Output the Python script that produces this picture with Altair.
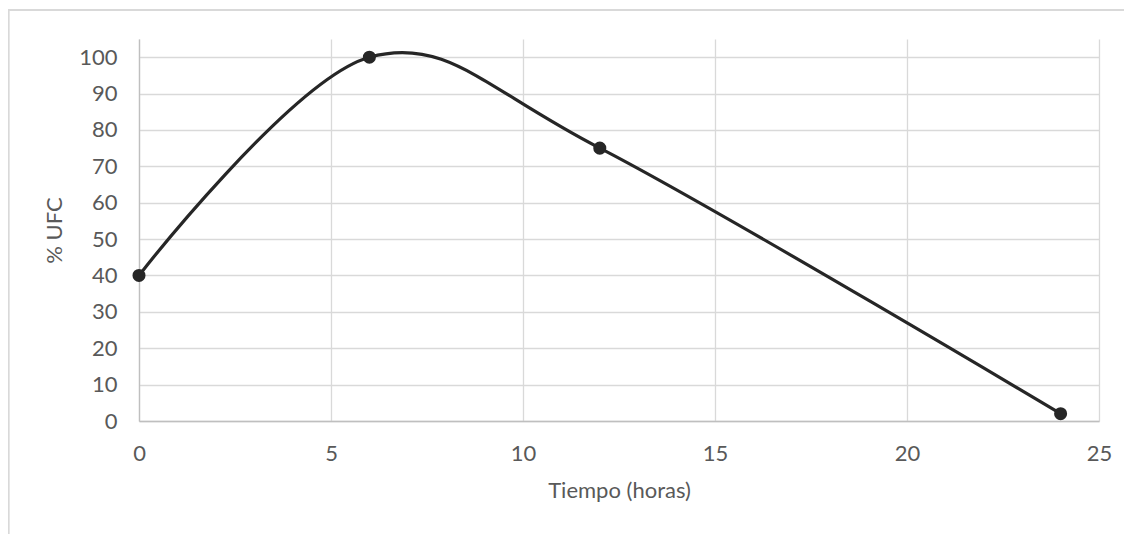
import altair as alt
import pandas as pd

tiempo = [0, 6, 12, 24]
ufc = [40, 100, 75, 2]
x_ticks = [0, 5, 10, 15, 20, 25]
y_ticks = [0, 10, 20, 30, 40, 50, 60, 70, 80, 90, 100]

df = pd.DataFrame({"tiempo": tiempo, "ufc": ufc})

FONT = "Lato"
LBL = "#595959"
FS = 22

x_enc = alt.X("tiempo:Q", title="Tiempo (horas)",
              scale=alt.Scale(domain=[0, 25], nice=False, zero=False),
              axis=alt.Axis(values=x_ticks, format="d", grid=True, ticks=False,
                            domainColor="#bfbfbf", domainWidth=1.3,
                            gridColor="#d9d9d9", gridWidth=1.3,
                            labelFlush=False, labelOverlap=False,
                            labelPadding=22, titlePadding=16,
                            labelFont=FONT, labelFontSize=FS, labelColor=LBL,
                            titleFont=FONT, titleFontSize=FS, titleColor=LBL,
                            titleFontWeight="normal"))
y_enc = alt.Y("ufc:Q", title="% UFC",
              scale=alt.Scale(domain=[0, 105], nice=False),
              axis=alt.Axis(values=y_ticks, format="d", grid=True, ticks=False,
                            domainColor="#bfbfbf", domainWidth=1.3,
                            gridColor="#d9d9d9", gridWidth=1.3,
                            labelFlush=False, labelOverlap=False,
                            labelPadding=22, titlePadding=12,
                            labelFont=FONT, labelFontSize=FS, labelColor=LBL,
                            titleFont=FONT, titleFontSize=FS, titleColor=LBL,
                            titleFontWeight="normal"))

line = alt.Chart(df).mark_line(interpolate="cardinal", color="#262626",
                               strokeWidth=3.2).encode(x=x_enc, y=y_enc)
pts = alt.Chart(df).mark_circle(size=170, color="#262626", opacity=1).encode(
    x=x_enc, y=y_enc)

border_top = alt.Chart(df).mark_rule(color="#d9d9d9", strokeWidth=1.5).encode(
    x=alt.value(-131), x2=alt.value(1000), y=alt.value(-29))
border_left = alt.Chart(df).mark_rule(color="#d9d9d9", strokeWidth=1.5).encode(
    x=alt.value(-130.5), y=alt.value(-29), y2=alt.value(560))

chart = alt.layer(line, pts, border_top, border_left).properties(
    width=960, height=382,
    autosize=alt.AutoSizeParams(type="none"),
    padding={"left": 131, "top": 31, "right": 25, "bottom": 140},
).configure_view(stroke=None)

chart.save("out.html", embed_options={"renderer": "svg", "actions": False})
